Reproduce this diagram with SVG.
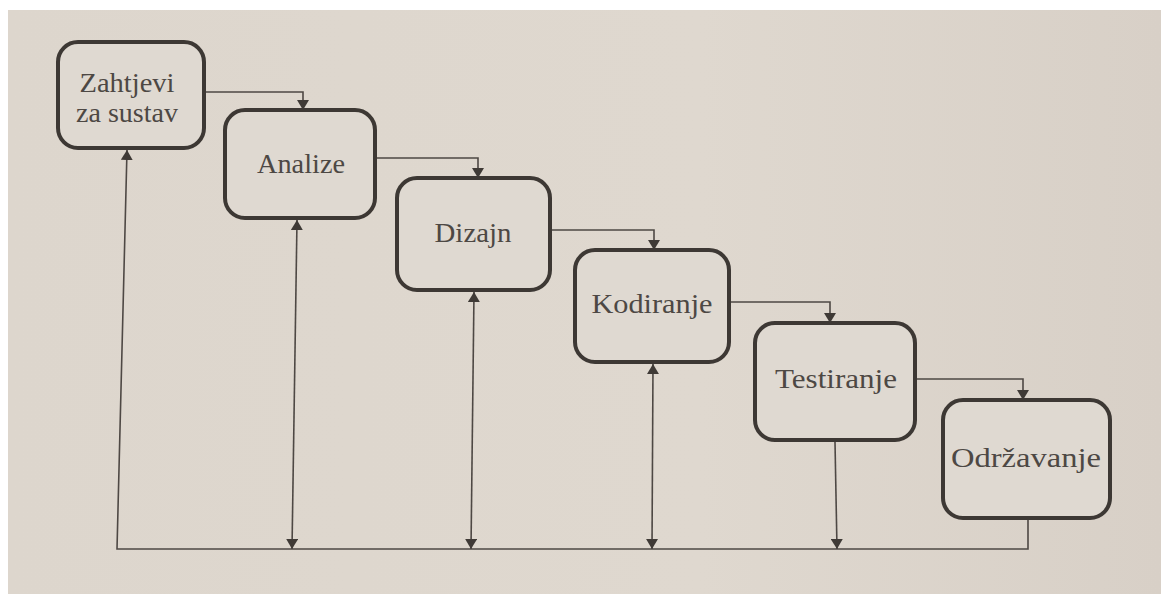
<svg xmlns="http://www.w3.org/2000/svg" width="1161" height="594" viewBox="0 0 1161 594">
  <defs>
    <linearGradient id="paper" x1="0" y1="0" x2="1" y2="0">
      <stop offset="0" stop-color="#ddd6cd"/>
      <stop offset="0.6" stop-color="#dfd8cf"/>
      <stop offset="1" stop-color="#d8d0c7"/>
    </linearGradient>
    <marker id="arr" viewBox="0 0 10 12" refX="10" refY="6" markerWidth="10" markerHeight="12" markerUnits="userSpaceOnUse" orient="auto-start-reverse">
      <path d="M0,0 L10,6 L0,12 Z" fill="#3f3a36"/>
    </marker>
    <style>
      .box { fill: #dfd9d1; stroke: #3d3834; stroke-width: 4; }
      .lbl { font-family: "Liberation Serif", "Times New Roman", serif; font-size: 28px; fill: #4d4844; text-anchor: middle; }
      .conn { fill: none; stroke: #4e4844; stroke-width: 1.6; }
    </style>
  </defs>
  <rect x="0" y="0" width="1161" height="594" fill="#ffffff"/>
  <rect x="8" y="10" width="1153" height="584" fill="url(#paper)"/>

  <g id="connectors">
    <path class="conn" d="M204,92 H303 V110" marker-end="url(#arr)"/>
    <path class="conn" d="M375,158 H478 V178" marker-end="url(#arr)"/>
    <path class="conn" d="M550,230 H654 V250" marker-end="url(#arr)"/>
    <path class="conn" d="M728,302 H830 V323" marker-end="url(#arr)"/>
    <path class="conn" d="M915,379 H1023 V400" marker-end="url(#arr)"/>
    <path class="conn" d="M1028,519 V549 H117 L127,150" marker-end="url(#arr)"/>
    <path class="conn" d="M292,549 L297,220" marker-start="url(#arr)" marker-end="url(#arr)"/>
    <path class="conn" d="M471,549 L474,292" marker-start="url(#arr)" marker-end="url(#arr)"/>
    <path class="conn" d="M652,549 L653,364" marker-start="url(#arr)" marker-end="url(#arr)"/>
    <path class="conn" d="M835,442 L837,549" marker-end="url(#arr)"/>
  </g>

  <g id="zahtjevi">
    <rect class="box" x="58" y="42" width="146" height="106" rx="20"/>
    <text class="lbl" x="127" y="92" textLength="95" lengthAdjust="spacingAndGlyphs">Zahtjevi</text>
    <text class="lbl" x="127" y="122" textLength="102" lengthAdjust="spacingAndGlyphs">za sustav</text>
  </g>
  <g id="analize">
    <rect class="box" x="225" y="110" width="150" height="108" rx="20"/>
    <text class="lbl" x="301" y="173" textLength="88" lengthAdjust="spacingAndGlyphs">Analize</text>
  </g>
  <g id="dizajn">
    <rect class="box" x="397" y="178" width="153" height="112" rx="20"/>
    <text class="lbl" x="473" y="242" textLength="77" lengthAdjust="spacingAndGlyphs">Dizajn</text>
  </g>
  <g id="kodiranje">
    <rect class="box" x="575" y="250" width="154" height="112" rx="20"/>
    <text class="lbl" x="652" y="313" textLength="121" lengthAdjust="spacingAndGlyphs">Kodiranje</text>
  </g>
  <g id="testiranje">
    <rect class="box" x="755" y="323" width="160" height="117" rx="20"/>
    <text class="lbl" x="836" y="388" textLength="122" lengthAdjust="spacingAndGlyphs">Testiranje</text>
  </g>
  <g id="odrzavanje">
    <rect class="box" x="943" y="400" width="167" height="118" rx="20"/>
    <text class="lbl" x="1026" y="467" textLength="150" lengthAdjust="spacingAndGlyphs">Održavanje</text>
  </g>
</svg>
